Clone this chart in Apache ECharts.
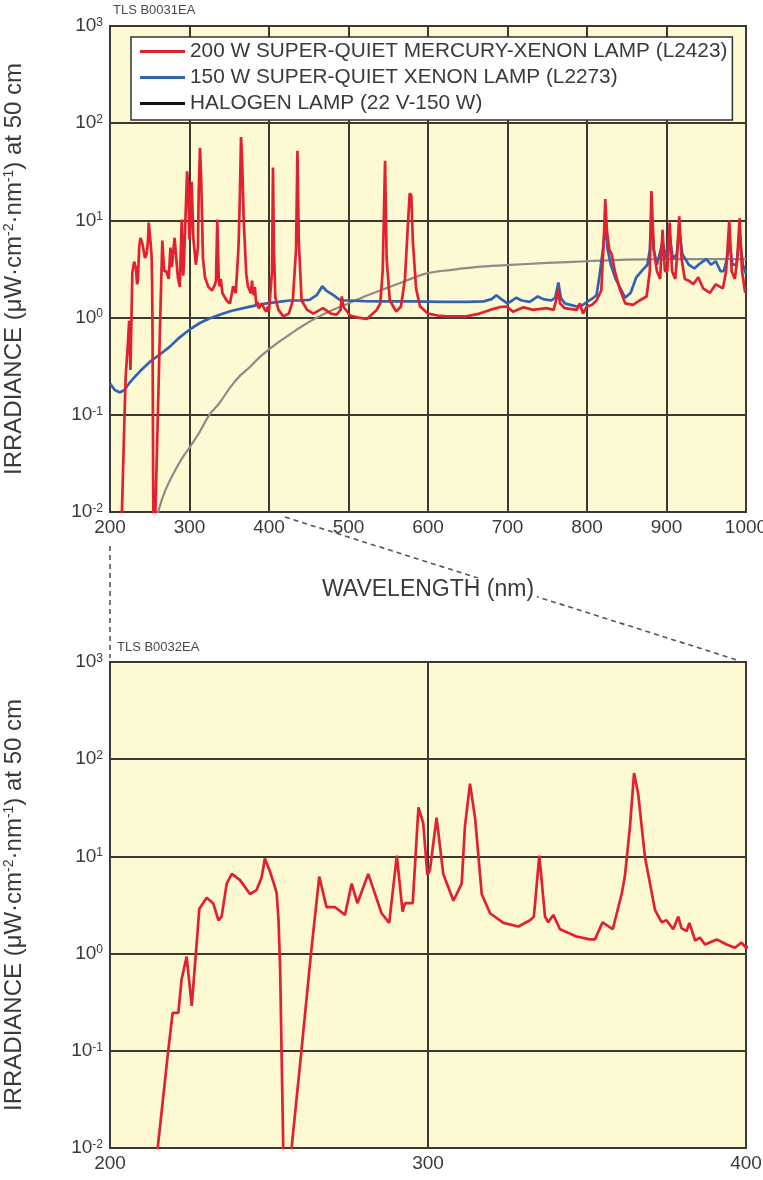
<!DOCTYPE html>
<html><head><meta charset="utf-8">
<script src="https://cdn.jsdelivr.net/npm/echarts@6/dist/echarts.min.js"></script>
<style>html,body{margin:0;padding:0;background:#fff}#c{width:763px;height:1180px}</style>
</head><body><div id="c"></div>
<script>
// ---- data (wavelength nm, irradiance µW·cm-2·nm-1 at 50 cm) ----
const seriesNames = [
  '200 W SUPER-QUIET MERCURY-XENON LAMP (L2423)',
  '150 W SUPER-QUIET XENON LAMP (L2273)',
  'HALOGEN LAMP (22 V-150 W)'
];
const chartCodes = ['TLS B0031EA', 'TLS B0032EA'];
const xTopRange = [200, 1000];
const xBottomRange = [200, 400];
const yRange = [0.01, 1000];

const hgXe = [
[212,0.004],[215,0.01],[218.3,0.1],[219.7,0.245],[221.5,0.245],[222.5,0.54],[224.1,0.93],[225.7,0.29],[227,1.0],[228.1,2.9],[230.4,3.76],[232.5,3.27],[234.1,2.2],[235.1,2.4],[236.7,5.25],[238.3,6.6],[240.9,5.7],[244,4.1],[246.1,4.5],[247.7,6.1],[248.7,9.5],[250.3,7.0],[251.9,4.8],[252.4,4.2],[253,2.2],[253.5,0.7],[254,0.08],[254.6,0.006],[256.5,0.004],[257.1,0.01],[260.2,0.1],[263.2,1.0],[265.8,6.2],[268.1,3.0],[270.8,3.0],[273.9,2.5],[276,5.25],[277.8,3.3],[281.2,6.6],[285.4,2.6],[287.8,2.07],[290.2,10.2],[292,2.7],[292.8,3.3],[295.2,3.3],[297,32],[298.5,22],[299.8,6.4],[300.6,7.2],[302.7,25],[304.8,6.6],[308,3.5],[310.6,5.25],[311.6,20],[313.2,56],[314.8,25],[316.9,4.1],[319.5,2.6],[323.7,2.07],[328.4,1.9],[332.1,2.2],[333.3,2.4],[335,10.2],[336.8,2.4],[337.8,2.1],[339.4,2.5],[341.5,1.78],[346.7,1.5],[350.9,1.4],[352.5,1.4],[354.9,2.1],[358.1,1.78],[360.9,4.1],[361.9,6.2],[363.5,20],[364.8,72],[366.1,44],[368.2,10],[371.4,2.8],[373.5,2.1],[375,2.2],[377.1,1.78],[378.7,2.4],[379.7,1.83],[381.3,1.7],[382.2,2.07],[384,1.36],[385.5,1.46],[387.1,1.24],[390.8,1.4],[393.9,1.24],[396.5,1.15],[398.6,1.3],[400,1.15],
[402,1.2],[403.8,3],[405,35],[406.2,5],[408,1.6],[412,1.2],[418,1.03],[425,1.1],[430,1.5],[434,5],[435.8,52],[437.5,6],[441,1.5],[448,1.2],[455.7,1.1],[468,1.25],[478,1.1],[485,1.07],[490,1.2],[491.6,1.65],[493.5,1.3],[502,1.05],[512,1.0],[523,0.97],[535.5,1.2],[540,1.4],[543,3],[546,41],[548,4],[552,1.5],[560,1.15],[566,1.3],[571,2.5],[575,10],[577,19],[579,18],[581,6],[585,2],[590,1.3],[600,1.1],[612,1.05],[623,1.03],[648,1.03],[665,1.1],[678,1.2],[690,1.28],[699,1.3],[707,1.15],[720,1.28],[732,1.2],[749,1.25],[758,1.2],[762,1.6],[764,2.0],[766,1.4],[772,1.25],[787,1.2],[791,1.4],[795,1.1],[799.6,1.3],[806,1.35],[812,1.5],[818,1.9],[821,6],[823,16.6],[825,8],[828,5],[831,4.5],[835,3],[841,2],[848,1.4],[858,1.35],[866,1.5],[875,1.65],[879,3],[881,20],[884,5],[888,3],[892,2.5],[895,8],[898,3],[901,3],[904,9.5],[907,3],[911,2.5],[913,4],[916,11],[919,4],[923,2.5],[928,2.4],[933.7,2.2],[940,2.6],[946,2.0],[954.7,1.8],[962,2.2],[971,2.0],[975,3],[979,10],[982,3],[986,2.5],[989,4],[992,10.5],[995,3],[999,1.8]
];

const xe = [
[200,0.21],[206,0.18],[212.6,0.17],[218,0.18],[224,0.21],[230,0.24],[237.7,0.28],[250,0.35],[263,0.42],[275,0.5],[288,0.63],[300,0.75],[313,0.88],[325,0.98],[338,1.07],[352,1.17],[367.7,1.25],[382,1.33],[397,1.4],[412,1.45],[426,1.5],[440,1.5],[451,1.52],[460,1.7],[467,2.1],[472,1.9],[481,1.7],[490,1.5],[500,1.5],[520,1.48],[540,1.47],[560,1.47],[580,1.47],[600,1.46],[620,1.45],[650,1.45],[670,1.47],[680,1.55],[686,1.7],[692,1.55],[700,1.4],[706,1.5],[711,1.6],[718,1.5],[728,1.45],[738,1.65],[745,1.55],[755,1.5],[760,1.6],[764,2.3],[767,1.6],[772,1.4],[787,1.3],[795,1.35],[800,1.45],[808,1.6],[812,1.7],[816,2.8],[820,5],[823,9],[826,5],[830,3.5],[836,2.5],[842,2],[848,1.6],[855,1.8],[862,2.6],[870,3.1],[876,3.5],[879,5],[881,12],[884,5],[888,3.5],[895,6],[900,4],[904,7],[908,4],[913,4.5],[916,8],[920,4.5],[928,3.5],[935,3.2],[942,3.6],[950,4],[956,3.5],[962,3.8],[968,3],[972,3],[976,4],[979,6],[983,3.5],[988,3.5],[992,7],[996,3.5],[1000,2.8]
];

const halogen = [
[255,0.006],[262,0.011],[270,0.017],[280,0.025],[290,0.035],[300,0.046],[312,0.065],[325,0.1],[337,0.13],[351,0.19],[363,0.25],[376,0.31],[388,0.39],[400,0.47],[412,0.56],[426,0.67],[440,0.8],[460,1.0],[480,1.2],[500,1.4],[520,1.65],[540,1.9],[570,2.35],[598,2.85],[630,3.1],[660,3.3],[699,3.46],[750,3.65],[800,3.8],[850,3.95],[900,4.0],[950,4.0],[1000,4.0]
];

// ---- styling ----
const FONT = '"Liberation Sans", Arial, Helvetica, sans-serif';
const TXT = '#3a3a3a';
const GRIDC = '#3a3a32';
const BG = '#fdf9d3';
const RED = '#e3202d', BLUE = '#2f64b3', GRAY = '#8c8c88';

const yName = '{a|IRRADIANCE (μW·cm}{s|-2}{a|·nm}{s|-1}{a|) at 50 cm}';
function yAxisCfg(gi){
  return {
    type:'log', logBase:10, gridIndex:gi, min:yRange[0], max:yRange[1],
    axisLine:{show:false}, axisTick:{show:false},
    splitLine:{show:true, lineStyle:{color:GRIDC, width:2}},
    axisLabel:{margin:7, formatter:v=>'{b|10}{s|'+Math.round(Math.log10(v))+'}',
      rich:{b:{fontSize:19,color:TXT,fontFamily:FONT}, s:{fontSize:12,color:TXT,fontFamily:FONT,verticalAlign:'top'}}},
    name:yName, nameLocation:'middle', nameGap:84,
    nameTextStyle:{rich:{a:{fontSize:24,color:TXT,fontFamily:FONT}, s:{fontSize:14,color:TXT,fontFamily:FONT,verticalAlign:'top'}}}
  };
}
function xAxisCfg(gi, range, withName){
  const c = {
    type:'value', gridIndex:gi, min:range[0], max:range[1], interval:100,
    axisLine:{show:false}, axisTick:{show:false},
    splitLine:{show:true, lineStyle:{color:GRIDC, width:2}},
    axisLabel:{margin:6, fontSize:19, color:TXT, fontFamily:FONT, formatter:v=>String(v)}
  };
  if (withName){ Object.assign(c,{name:'WAVELENGTH (nm)', nameLocation:'middle', nameGap:66,
    nameTextStyle:{fontSize:23,color:TXT,fontFamily:FONT, backgroundColor:'#fff', padding:[0,3,0,3]}}); }
  return c;
}
function lineSeries(name, data, color, xi, width, smooth){
  return {name, type:'line', data, xAxisIndex:xi, yAxisIndex:xi, symbol:'none', showSymbol:false,
    smooth: smooth || false,
    clip:true, animation:false, lineStyle:{color, width}, itemStyle:{color}, z:3};
}

const chart = echarts.init(document.getElementById('c'));
const option = {
  animation:false,
  backgroundColor:'#fff',
  grid:[
    {left:110, top:26, width:636, height:486, outerBoundsMode:'none', containLabel:false, show:true, backgroundColor:BG, borderColor:GRIDC, borderWidth:2},
    {left:110, top:662, width:636, height:486, outerBoundsMode:'none', containLabel:false, show:true, backgroundColor:BG, borderColor:GRIDC, borderWidth:2}
  ],
  xAxis:[xAxisCfg(0, xTopRange, true), xAxisCfg(1, xBottomRange, false)],
  yAxis:[yAxisCfg(0), yAxisCfg(1)],
  legend:{
    orient:'vertical', left:131, top:37, icon:'rect', itemWidth:45, itemHeight:3, itemGap:5,
    padding:[4,5,6,9], backgroundColor:'#fff', borderColor:'#333', borderWidth:1.5,
    textStyle:{fontSize:20.8, color:TXT, fontFamily:FONT},
    selectedMode:false,
    data:[
      {name:seriesNames[0], itemStyle:{color:RED}},
      {name:seriesNames[1], itemStyle:{color:BLUE}},
      {name:seriesNames[2], itemStyle:{color:'#111'}}
    ]
  },
  series:[
    lineSeries(seriesNames[2], halogen, GRAY, 0, 2.2, 0.4),
    lineSeries(seriesNames[1], xe, BLUE, 0, 2.7),
    lineSeries(seriesNames[0], hgXe, RED, 0, 2.7),
    Object.assign(lineSeries(seriesNames[0]+' ', hgXe, RED, 1, 2.7), {legendHoverLink:false})
  ],
  graphic:[
    {id:'code1', type:'text', left:113, top:4, style:{text:chartCodes[0], fontSize:13, fill:'#4a4a4a', fontFamily:FONT}},
    {id:'code2', type:'text', left:117, top:641, style:{text:chartCodes[1], fontSize:13, fill:'#4a4a4a', fontFamily:FONT}}
  ]
};
chart.setOption(option);

// zoom connector lines, positioned through the axes' own scales
const a = chart.convertToPixel({xAxisIndex:0, yAxisIndex:0}, [xBottomRange[0], yRange[0]]);
const b = chart.convertToPixel({xAxisIndex:1, yAxisIndex:1}, [xBottomRange[0], yRange[1]]);
const c = chart.convertToPixel({xAxisIndex:0, yAxisIndex:0}, [xBottomRange[1], yRange[0]]);
const d = chart.convertToPixel({xAxisIndex:1, yAxisIndex:1}, [xBottomRange[1], yRange[1]]);
const dash = {stroke:'#555', lineWidth:1.6, lineDash:[5,4]};
chart.setOption({graphic:[
  {id:'v', type:'line', shape:{x1:a[0], y1:a[1]+34, x2:b[0], y2:b[1]-4}, style:dash, z:-1},
  {id:'dg', type:'line', shape:{x1:c[0]+16, y1:c[1]+5, x2:d[0]-9, y2:d[1]-2}, style:dash, z:-1}
]});
</script></body></html>
